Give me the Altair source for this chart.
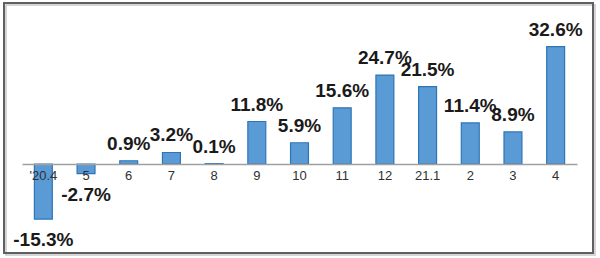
import altair as alt
import pandas as pd

# Month-over-month growth rates (%)
months = ["'20.4", "5", "6", "7", "8", "9", "10", "11", "12", "21.1", "2", "3", "4"]
growth = [-15.3, -2.7, 0.9, 3.2, 0.1, 11.8, 5.9, 15.6, 24.7, 21.5, 11.4, 8.9, 32.6]

df = pd.DataFrame({"month": months, "growth": growth})

W, H = 555, 216
FONT = "Liberation Sans"

x = alt.X(
    "month:N",
    sort=None,
    scale=alt.Scale(paddingInner=0.58, paddingOuter=0.29),
    axis=alt.Axis(
        title=None,
        labelAngle=0,
        labelFont=FONT,
        labelFontSize=13,
        labelColor="#303030",
        labelPadding=5,
        ticks=False,
        domainColor="#A0A0A0",
        domainWidth=1.5,
        offset=-72,
        zindex=1,
    ),
)
y = alt.Y(
    "growth:Q",
    scale=alt.Scale(domain=[-20, 40], nice=False),
    axis=None,
)

base = alt.Chart(df).encode(x=x, y=y)

bars = base.mark_bar(
    color="#5B9BD5", stroke="#2E75B6", strokeWidth=1.2
).encode(y2=alt.datum(0))

label_style = dict(font=FONT, fontSize=19, fontWeight="bold", color="#1a1a1a")
label_expr = "(datum.growth < 0 ? '-' : '') + format(abs(datum.growth), '.1f') + '%'"

pos_labels = (
    base.transform_filter("datum.growth >= 0")
    .transform_calculate(label=label_expr)
    .mark_text(baseline="middle", dy=-17, **label_style)
    .encode(text="label:N")
)
neg_labels = (
    base.transform_filter("datum.growth < 0")
    .transform_calculate(label=label_expr)
    .mark_text(baseline="middle", dy=21, **label_style)
    .encode(text="label:N")
)

one = pd.DataFrame({"k": [0]})
shadow = alt.Chart(one).mark_rect(
    fill=None, stroke="#C8C8C8", strokeWidth=1.5
).encode(
    x=alt.value(-16), x2=alt.value(573), y=alt.value(-15), y2=alt.value(235)
)
frame = alt.Chart(one).mark_rect(
    fill=None, stroke="#606060", strokeWidth=2
).encode(
    x=alt.value(-18), x2=alt.value(571), y=alt.value(-17), y2=alt.value(233)
)

chart = (
    alt.layer(shadow, frame, bars, pos_labels, neg_labels)
    .properties(
        width=W,
        height=H,
        autosize="none",
        padding={"left": 22, "top": 20, "right": 23, "bottom": 22},
        background="white",
    )
    .configure_view(stroke=None)
)

chart.save("out.html", embed_options={"renderer": "svg", "actions": False})
